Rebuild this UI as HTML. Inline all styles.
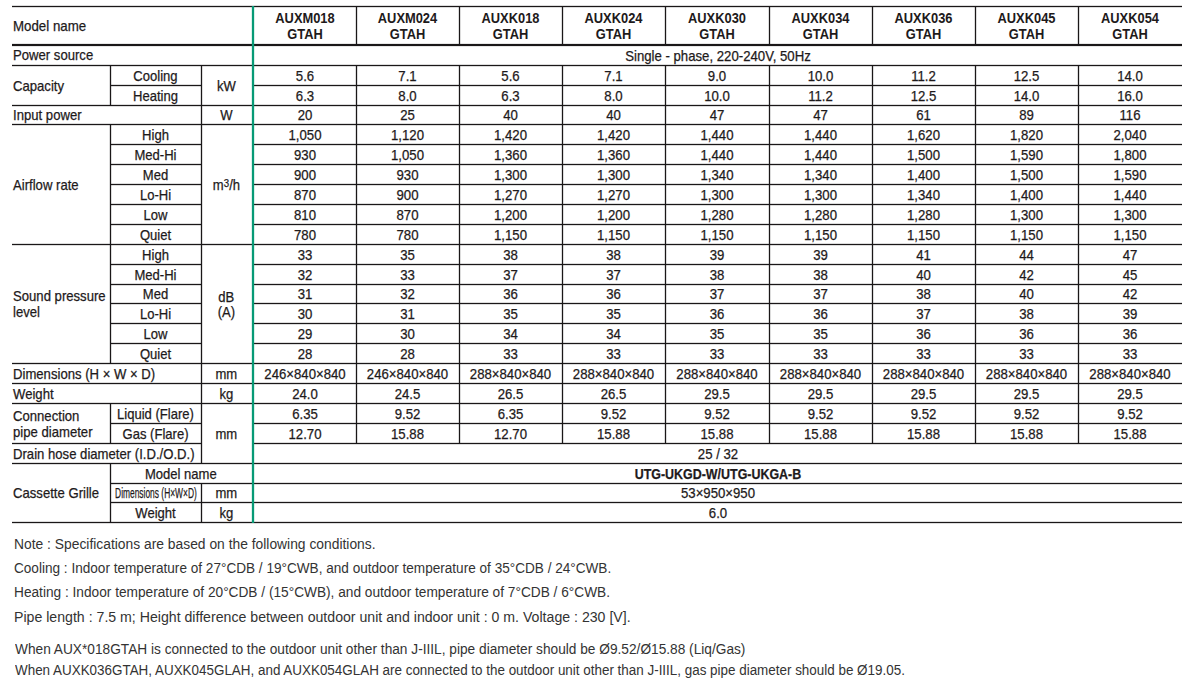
<!DOCTYPE html>
<html><head><meta charset="utf-8"><style>
html,body{margin:0;padding:0;background:#fff;}
body{width:1199px;height:684px;position:relative;overflow:hidden;font-family:"Liberation Sans",Arial,sans-serif;color:#1e1a1b;}
svg{position:absolute;left:0;top:0;}
.c{position:absolute;display:flex;align-items:center;justify-content:center;font-size:14.2px;line-height:15px;text-align:center;white-space:nowrap;transform:scaleX(0.929);-webkit-text-stroke:0.25px #1e1a1b;}
.c.t{transform:scaleX(0.92);}
.lab{position:absolute;display:flex;align-items:center;font-size:14.2px;line-height:15.6px;white-space:nowrap;transform:scaleX(0.925);transform-origin:0 0;-webkit-text-stroke:0.25px #1e1a1b;}
.mn{transform:scaleX(0.937);}
.h{position:absolute;font-weight:bold;font-size:14px;line-height:16.2px;text-align:center;white-space:nowrap;transform:scaleX(0.92);}
.ub{display:inline-block;transform:scaleX(0.944);}
.n{position:absolute;font-size:14px;line-height:14px;color:#333;white-space:nowrap;transform-origin:0 0;}
.tiny{display:inline-block;transform:scaleX(0.638);}
sup{font-size:10.5px;line-height:0;vertical-align:0;position:relative;top:-3.6px;margin-left:0.3px;}
</style></head><body>
<svg width="1199" height="684" viewBox="0 0 1199 684" fill="#1a1718"><rect x="12" y="5.85" width="1170" height="1.30"/><rect x="12" y="43.90" width="1170" height="2.2"/><rect x="12" y="64.85" width="1170" height="1.30"/><rect x="110" y="84.85" width="91" height="1.30"/><rect x="254" y="84.85" width="928" height="1.30"/><rect x="12" y="104.85" width="1170" height="1.30"/><rect x="12" y="123.85" width="1170" height="1.30"/><rect x="110" y="143.85" width="91" height="1.30"/><rect x="254" y="143.85" width="928" height="1.30"/><rect x="110" y="163.85" width="91" height="1.30"/><rect x="254" y="163.85" width="928" height="1.30"/><rect x="110" y="183.85" width="91" height="1.30"/><rect x="254" y="183.85" width="928" height="1.30"/><rect x="110" y="203.85" width="91" height="1.30"/><rect x="254" y="203.85" width="928" height="1.30"/><rect x="110" y="223.85" width="91" height="1.30"/><rect x="254" y="223.85" width="928" height="1.30"/><rect x="12" y="243.85" width="1170" height="1.30"/><rect x="110" y="263.85" width="91" height="1.30"/><rect x="254" y="263.85" width="928" height="1.30"/><rect x="110" y="283.85" width="91" height="1.30"/><rect x="254" y="283.85" width="928" height="1.30"/><rect x="110" y="302.85" width="91" height="1.30"/><rect x="254" y="302.85" width="928" height="1.30"/><rect x="110" y="322.85" width="91" height="1.30"/><rect x="254" y="322.85" width="928" height="1.30"/><rect x="110" y="342.85" width="91" height="1.30"/><rect x="254" y="342.85" width="928" height="1.30"/><rect x="12" y="362.85" width="1170" height="1.30"/><rect x="12" y="382.85" width="1170" height="1.30"/><rect x="12" y="402.85" width="1170" height="1.30"/><rect x="110" y="422.85" width="91" height="1.30"/><rect x="254" y="422.85" width="928" height="1.30"/><rect x="12" y="442.85" width="189" height="1.30"/><rect x="254" y="442.85" width="928" height="1.30"/><rect x="12" y="462.85" width="1170" height="1.30"/><rect x="110" y="482.85" width="1072" height="1.30"/><rect x="110" y="501.85" width="1072" height="1.30"/><rect x="12" y="521.85" width="1170" height="1.30"/><rect x="109.85" y="65" width="1.30" height="41"/><rect x="109.85" y="124" width="1.30" height="121"/><rect x="109.85" y="244" width="1.30" height="120"/><rect x="109.85" y="403" width="1.30" height="41"/><rect x="109.85" y="463" width="1.30" height="60"/><rect x="200.85" y="65" width="1.30" height="399"/><rect x="200.85" y="483" width="1.30" height="40"/><rect x="355.85" y="6" width="1.30" height="38"/><rect x="355.85" y="65" width="1.30" height="379"/><rect x="458.85" y="6" width="1.30" height="38"/><rect x="458.85" y="65" width="1.30" height="379"/><rect x="561.85" y="6" width="1.30" height="38"/><rect x="561.85" y="65" width="1.30" height="379"/><rect x="664.85" y="6" width="1.30" height="38"/><rect x="664.85" y="65" width="1.30" height="379"/><rect x="768.85" y="6" width="1.30" height="38"/><rect x="768.85" y="65" width="1.30" height="379"/><rect x="871.85" y="6" width="1.30" height="38"/><rect x="871.85" y="65" width="1.30" height="379"/><rect x="974.85" y="6" width="1.30" height="38"/><rect x="974.85" y="65" width="1.30" height="379"/><rect x="1077.85" y="6" width="1.30" height="38"/><rect x="1077.85" y="65" width="1.30" height="379"/><rect x="251.85" y="6" width="2.3" height="517" fill="#079a76"/></svg>
<div class="h" style="left:254.00px;top:9.6px;width:102.00px">AUXM018<br>GTAH</div>
<div class="h" style="left:356.00px;top:9.6px;width:103.00px">AUXM024<br>GTAH</div>
<div class="h" style="left:459.00px;top:9.6px;width:103.00px">AUXK018<br>GTAH</div>
<div class="h" style="left:562.00px;top:9.6px;width:103.00px">AUXK024<br>GTAH</div>
<div class="h" style="left:665.00px;top:9.6px;width:104.00px">AUXK030<br>GTAH</div>
<div class="h" style="left:769.00px;top:9.6px;width:103.00px">AUXK034<br>GTAH</div>
<div class="h" style="left:872.00px;top:9.6px;width:103.00px">AUXK036<br>GTAH</div>
<div class="h" style="left:975.00px;top:9.6px;width:103.00px">AUXK045<br>GTAH</div>
<div class="h" style="left:1078.00px;top:9.6px;width:104.00px">AUXK054<br>GTAH</div>
<div class="lab mn" style="left:12.8px;top:8.2px;height:37px">Model name</div>
<div class="lab" style="left:13.3px;top:46.40px;height:19.00px">Power source</div>
<div class="lab" style="left:13.3px;top:67.00px;height:39.00px">Capacity</div>
<div class="lab" style="left:13.3px;top:107.00px;height:18.00px">Input power</div>
<div class="lab" style="left:13.3px;top:126.00px;height:119.00px">Airflow rate</div>
<div class="lab" style="left:13.3px;top:246.00px;height:118.00px">Sound pressure<br>level</div>
<div class="lab" style="left:13.3px;top:365.00px;height:19.00px">Dimensions (H × W × D)</div>
<div class="lab" style="left:13.3px;top:385.00px;height:19.00px">Weight</div>
<div class="lab" style="left:13.3px;top:405.00px;height:39.00px">Connection<br>pipe diameter</div>
<div class="lab" style="left:13.3px;top:445.00px;height:19.00px">Drain hose diameter (I.D./O.D.)</div>
<div class="lab" style="left:13.3px;top:465.00px;height:58.00px">Cassette Grille</div>
<div class="c t" style="left:110.00px;top:66.55px;width:91.00px;height:19.00px">Cooling</div>
<div class="c t" style="left:110.00px;top:86.55px;width:91.00px;height:19.00px">Heating</div>
<div class="c t" style="left:110.00px;top:125.55px;width:91.00px;height:19.00px">High</div>
<div class="c t" style="left:110.00px;top:145.55px;width:91.00px;height:19.00px">Med-Hi</div>
<div class="c t" style="left:110.00px;top:165.55px;width:91.00px;height:19.00px">Med</div>
<div class="c t" style="left:110.00px;top:185.55px;width:91.00px;height:19.00px">Lo-Hi</div>
<div class="c t" style="left:110.00px;top:205.55px;width:91.00px;height:19.00px">Low</div>
<div class="c t" style="left:110.00px;top:225.55px;width:91.00px;height:19.00px">Quiet</div>
<div class="c t" style="left:110.00px;top:245.55px;width:91.00px;height:19.00px">High</div>
<div class="c t" style="left:110.00px;top:265.55px;width:91.00px;height:19.00px">Med-Hi</div>
<div class="c t" style="left:110.00px;top:285.55px;width:91.00px;height:18.00px">Med</div>
<div class="c t" style="left:110.00px;top:304.55px;width:91.00px;height:19.00px">Lo-Hi</div>
<div class="c t" style="left:110.00px;top:324.55px;width:91.00px;height:19.00px">Low</div>
<div class="c t" style="left:110.00px;top:344.55px;width:91.00px;height:19.00px">Quiet</div>
<div class="c t" style="left:110.00px;top:404.55px;width:91.00px;height:19.00px">Liquid (Flare)</div>
<div class="c t" style="left:110.00px;top:424.55px;width:91.00px;height:19.00px">Gas (Flare)</div>
<div class="c t" style="left:110.00px;top:503.55px;width:91.00px;height:19.00px">Weight</div>
<div class="c t" style="left:110.00px;top:464.55px;width:141.70px;height:19.00px">Model name</div>
<div class="c" style="left:110.00px;top:484.55px;width:91.00px;height:18.00px"><span class="tiny">Dimensions (H×W×D)</span></div>
<div class="c t" style="left:201.00px;top:66.55px;width:50.70px;height:39.00px">kW</div>
<div class="c t" style="left:201.00px;top:106.55px;width:50.70px;height:18.00px">W</div>
<div class="c t" style="left:201.00px;top:125.55px;width:50.70px;height:119.00px"><span style="position:relative;top:0.8px">m<sup>3</sup>/h</span></div>
<div class="c t" style="left:201.00px;top:245.55px;width:50.70px;height:118.00px">dB<br>(A)</div>
<div class="c t" style="left:201.00px;top:364.55px;width:50.70px;height:19.00px">mm</div>
<div class="c t" style="left:201.00px;top:384.55px;width:50.70px;height:19.00px">kg</div>
<div class="c t" style="left:201.00px;top:404.55px;width:50.70px;height:59.00px">mm</div>
<div class="c t" style="left:201.00px;top:484.55px;width:50.70px;height:18.00px">mm</div>
<div class="c t" style="left:201.00px;top:503.55px;width:50.70px;height:19.00px">kg</div>
<div class="c" style="left:254.00px;top:66.55px;width:102.00px;height:19.00px">5.6</div>
<div class="c" style="left:356.00px;top:66.55px;width:103.00px;height:19.00px">7.1</div>
<div class="c" style="left:459.00px;top:66.55px;width:103.00px;height:19.00px">5.6</div>
<div class="c" style="left:562.00px;top:66.55px;width:103.00px;height:19.00px">7.1</div>
<div class="c" style="left:665.00px;top:66.55px;width:104.00px;height:19.00px">9.0</div>
<div class="c" style="left:769.00px;top:66.55px;width:103.00px;height:19.00px">10.0</div>
<div class="c" style="left:872.00px;top:66.55px;width:103.00px;height:19.00px">11.2</div>
<div class="c" style="left:975.00px;top:66.55px;width:103.00px;height:19.00px">12.5</div>
<div class="c" style="left:1078.00px;top:66.55px;width:104.00px;height:19.00px">14.0</div>
<div class="c" style="left:254.00px;top:86.55px;width:102.00px;height:19.00px">6.3</div>
<div class="c" style="left:356.00px;top:86.55px;width:103.00px;height:19.00px">8.0</div>
<div class="c" style="left:459.00px;top:86.55px;width:103.00px;height:19.00px">6.3</div>
<div class="c" style="left:562.00px;top:86.55px;width:103.00px;height:19.00px">8.0</div>
<div class="c" style="left:665.00px;top:86.55px;width:104.00px;height:19.00px">10.0</div>
<div class="c" style="left:769.00px;top:86.55px;width:103.00px;height:19.00px">11.2</div>
<div class="c" style="left:872.00px;top:86.55px;width:103.00px;height:19.00px">12.5</div>
<div class="c" style="left:975.00px;top:86.55px;width:103.00px;height:19.00px">14.0</div>
<div class="c" style="left:1078.00px;top:86.55px;width:104.00px;height:19.00px">16.0</div>
<div class="c" style="left:254.00px;top:106.55px;width:102.00px;height:18.00px">20</div>
<div class="c" style="left:356.00px;top:106.55px;width:103.00px;height:18.00px">25</div>
<div class="c" style="left:459.00px;top:106.55px;width:103.00px;height:18.00px">40</div>
<div class="c" style="left:562.00px;top:106.55px;width:103.00px;height:18.00px">40</div>
<div class="c" style="left:665.00px;top:106.55px;width:104.00px;height:18.00px">47</div>
<div class="c" style="left:769.00px;top:106.55px;width:103.00px;height:18.00px">47</div>
<div class="c" style="left:872.00px;top:106.55px;width:103.00px;height:18.00px">61</div>
<div class="c" style="left:975.00px;top:106.55px;width:103.00px;height:18.00px">89</div>
<div class="c" style="left:1078.00px;top:106.55px;width:104.00px;height:18.00px">116</div>
<div class="c" style="left:254.00px;top:125.55px;width:102.00px;height:19.00px">1,050</div>
<div class="c" style="left:356.00px;top:125.55px;width:103.00px;height:19.00px">1,120</div>
<div class="c" style="left:459.00px;top:125.55px;width:103.00px;height:19.00px">1,420</div>
<div class="c" style="left:562.00px;top:125.55px;width:103.00px;height:19.00px">1,420</div>
<div class="c" style="left:665.00px;top:125.55px;width:104.00px;height:19.00px">1,440</div>
<div class="c" style="left:769.00px;top:125.55px;width:103.00px;height:19.00px">1,440</div>
<div class="c" style="left:872.00px;top:125.55px;width:103.00px;height:19.00px">1,620</div>
<div class="c" style="left:975.00px;top:125.55px;width:103.00px;height:19.00px">1,820</div>
<div class="c" style="left:1078.00px;top:125.55px;width:104.00px;height:19.00px">2,040</div>
<div class="c" style="left:254.00px;top:145.55px;width:102.00px;height:19.00px">930</div>
<div class="c" style="left:356.00px;top:145.55px;width:103.00px;height:19.00px">1,050</div>
<div class="c" style="left:459.00px;top:145.55px;width:103.00px;height:19.00px">1,360</div>
<div class="c" style="left:562.00px;top:145.55px;width:103.00px;height:19.00px">1,360</div>
<div class="c" style="left:665.00px;top:145.55px;width:104.00px;height:19.00px">1,440</div>
<div class="c" style="left:769.00px;top:145.55px;width:103.00px;height:19.00px">1,440</div>
<div class="c" style="left:872.00px;top:145.55px;width:103.00px;height:19.00px">1,500</div>
<div class="c" style="left:975.00px;top:145.55px;width:103.00px;height:19.00px">1,590</div>
<div class="c" style="left:1078.00px;top:145.55px;width:104.00px;height:19.00px">1,800</div>
<div class="c" style="left:254.00px;top:165.55px;width:102.00px;height:19.00px">900</div>
<div class="c" style="left:356.00px;top:165.55px;width:103.00px;height:19.00px">930</div>
<div class="c" style="left:459.00px;top:165.55px;width:103.00px;height:19.00px">1,300</div>
<div class="c" style="left:562.00px;top:165.55px;width:103.00px;height:19.00px">1,300</div>
<div class="c" style="left:665.00px;top:165.55px;width:104.00px;height:19.00px">1,340</div>
<div class="c" style="left:769.00px;top:165.55px;width:103.00px;height:19.00px">1,340</div>
<div class="c" style="left:872.00px;top:165.55px;width:103.00px;height:19.00px">1,400</div>
<div class="c" style="left:975.00px;top:165.55px;width:103.00px;height:19.00px">1,500</div>
<div class="c" style="left:1078.00px;top:165.55px;width:104.00px;height:19.00px">1,590</div>
<div class="c" style="left:254.00px;top:185.55px;width:102.00px;height:19.00px">870</div>
<div class="c" style="left:356.00px;top:185.55px;width:103.00px;height:19.00px">900</div>
<div class="c" style="left:459.00px;top:185.55px;width:103.00px;height:19.00px">1,270</div>
<div class="c" style="left:562.00px;top:185.55px;width:103.00px;height:19.00px">1,270</div>
<div class="c" style="left:665.00px;top:185.55px;width:104.00px;height:19.00px">1,300</div>
<div class="c" style="left:769.00px;top:185.55px;width:103.00px;height:19.00px">1,300</div>
<div class="c" style="left:872.00px;top:185.55px;width:103.00px;height:19.00px">1,340</div>
<div class="c" style="left:975.00px;top:185.55px;width:103.00px;height:19.00px">1,400</div>
<div class="c" style="left:1078.00px;top:185.55px;width:104.00px;height:19.00px">1,440</div>
<div class="c" style="left:254.00px;top:205.55px;width:102.00px;height:19.00px">810</div>
<div class="c" style="left:356.00px;top:205.55px;width:103.00px;height:19.00px">870</div>
<div class="c" style="left:459.00px;top:205.55px;width:103.00px;height:19.00px">1,200</div>
<div class="c" style="left:562.00px;top:205.55px;width:103.00px;height:19.00px">1,200</div>
<div class="c" style="left:665.00px;top:205.55px;width:104.00px;height:19.00px">1,280</div>
<div class="c" style="left:769.00px;top:205.55px;width:103.00px;height:19.00px">1,280</div>
<div class="c" style="left:872.00px;top:205.55px;width:103.00px;height:19.00px">1,280</div>
<div class="c" style="left:975.00px;top:205.55px;width:103.00px;height:19.00px">1,300</div>
<div class="c" style="left:1078.00px;top:205.55px;width:104.00px;height:19.00px">1,300</div>
<div class="c" style="left:254.00px;top:225.55px;width:102.00px;height:19.00px">780</div>
<div class="c" style="left:356.00px;top:225.55px;width:103.00px;height:19.00px">780</div>
<div class="c" style="left:459.00px;top:225.55px;width:103.00px;height:19.00px">1,150</div>
<div class="c" style="left:562.00px;top:225.55px;width:103.00px;height:19.00px">1,150</div>
<div class="c" style="left:665.00px;top:225.55px;width:104.00px;height:19.00px">1,150</div>
<div class="c" style="left:769.00px;top:225.55px;width:103.00px;height:19.00px">1,150</div>
<div class="c" style="left:872.00px;top:225.55px;width:103.00px;height:19.00px">1,150</div>
<div class="c" style="left:975.00px;top:225.55px;width:103.00px;height:19.00px">1,150</div>
<div class="c" style="left:1078.00px;top:225.55px;width:104.00px;height:19.00px">1,150</div>
<div class="c" style="left:254.00px;top:245.55px;width:102.00px;height:19.00px">33</div>
<div class="c" style="left:356.00px;top:245.55px;width:103.00px;height:19.00px">35</div>
<div class="c" style="left:459.00px;top:245.55px;width:103.00px;height:19.00px">38</div>
<div class="c" style="left:562.00px;top:245.55px;width:103.00px;height:19.00px">38</div>
<div class="c" style="left:665.00px;top:245.55px;width:104.00px;height:19.00px">39</div>
<div class="c" style="left:769.00px;top:245.55px;width:103.00px;height:19.00px">39</div>
<div class="c" style="left:872.00px;top:245.55px;width:103.00px;height:19.00px">41</div>
<div class="c" style="left:975.00px;top:245.55px;width:103.00px;height:19.00px">44</div>
<div class="c" style="left:1078.00px;top:245.55px;width:104.00px;height:19.00px">47</div>
<div class="c" style="left:254.00px;top:265.55px;width:102.00px;height:19.00px">32</div>
<div class="c" style="left:356.00px;top:265.55px;width:103.00px;height:19.00px">33</div>
<div class="c" style="left:459.00px;top:265.55px;width:103.00px;height:19.00px">37</div>
<div class="c" style="left:562.00px;top:265.55px;width:103.00px;height:19.00px">37</div>
<div class="c" style="left:665.00px;top:265.55px;width:104.00px;height:19.00px">38</div>
<div class="c" style="left:769.00px;top:265.55px;width:103.00px;height:19.00px">38</div>
<div class="c" style="left:872.00px;top:265.55px;width:103.00px;height:19.00px">40</div>
<div class="c" style="left:975.00px;top:265.55px;width:103.00px;height:19.00px">42</div>
<div class="c" style="left:1078.00px;top:265.55px;width:104.00px;height:19.00px">45</div>
<div class="c" style="left:254.00px;top:285.55px;width:102.00px;height:18.00px">31</div>
<div class="c" style="left:356.00px;top:285.55px;width:103.00px;height:18.00px">32</div>
<div class="c" style="left:459.00px;top:285.55px;width:103.00px;height:18.00px">36</div>
<div class="c" style="left:562.00px;top:285.55px;width:103.00px;height:18.00px">36</div>
<div class="c" style="left:665.00px;top:285.55px;width:104.00px;height:18.00px">37</div>
<div class="c" style="left:769.00px;top:285.55px;width:103.00px;height:18.00px">37</div>
<div class="c" style="left:872.00px;top:285.55px;width:103.00px;height:18.00px">38</div>
<div class="c" style="left:975.00px;top:285.55px;width:103.00px;height:18.00px">40</div>
<div class="c" style="left:1078.00px;top:285.55px;width:104.00px;height:18.00px">42</div>
<div class="c" style="left:254.00px;top:304.55px;width:102.00px;height:19.00px">30</div>
<div class="c" style="left:356.00px;top:304.55px;width:103.00px;height:19.00px">31</div>
<div class="c" style="left:459.00px;top:304.55px;width:103.00px;height:19.00px">35</div>
<div class="c" style="left:562.00px;top:304.55px;width:103.00px;height:19.00px">35</div>
<div class="c" style="left:665.00px;top:304.55px;width:104.00px;height:19.00px">36</div>
<div class="c" style="left:769.00px;top:304.55px;width:103.00px;height:19.00px">36</div>
<div class="c" style="left:872.00px;top:304.55px;width:103.00px;height:19.00px">37</div>
<div class="c" style="left:975.00px;top:304.55px;width:103.00px;height:19.00px">38</div>
<div class="c" style="left:1078.00px;top:304.55px;width:104.00px;height:19.00px">39</div>
<div class="c" style="left:254.00px;top:324.55px;width:102.00px;height:19.00px">29</div>
<div class="c" style="left:356.00px;top:324.55px;width:103.00px;height:19.00px">30</div>
<div class="c" style="left:459.00px;top:324.55px;width:103.00px;height:19.00px">34</div>
<div class="c" style="left:562.00px;top:324.55px;width:103.00px;height:19.00px">34</div>
<div class="c" style="left:665.00px;top:324.55px;width:104.00px;height:19.00px">35</div>
<div class="c" style="left:769.00px;top:324.55px;width:103.00px;height:19.00px">35</div>
<div class="c" style="left:872.00px;top:324.55px;width:103.00px;height:19.00px">36</div>
<div class="c" style="left:975.00px;top:324.55px;width:103.00px;height:19.00px">36</div>
<div class="c" style="left:1078.00px;top:324.55px;width:104.00px;height:19.00px">36</div>
<div class="c" style="left:254.00px;top:344.55px;width:102.00px;height:19.00px">28</div>
<div class="c" style="left:356.00px;top:344.55px;width:103.00px;height:19.00px">28</div>
<div class="c" style="left:459.00px;top:344.55px;width:103.00px;height:19.00px">33</div>
<div class="c" style="left:562.00px;top:344.55px;width:103.00px;height:19.00px">33</div>
<div class="c" style="left:665.00px;top:344.55px;width:104.00px;height:19.00px">33</div>
<div class="c" style="left:769.00px;top:344.55px;width:103.00px;height:19.00px">33</div>
<div class="c" style="left:872.00px;top:344.55px;width:103.00px;height:19.00px">33</div>
<div class="c" style="left:975.00px;top:344.55px;width:103.00px;height:19.00px">33</div>
<div class="c" style="left:1078.00px;top:344.55px;width:104.00px;height:19.00px">33</div>
<div class="c" style="left:254.00px;top:364.55px;width:102.00px;height:19.00px">246×840×840</div>
<div class="c" style="left:356.00px;top:364.55px;width:103.00px;height:19.00px">246×840×840</div>
<div class="c" style="left:459.00px;top:364.55px;width:103.00px;height:19.00px">288×840×840</div>
<div class="c" style="left:562.00px;top:364.55px;width:103.00px;height:19.00px">288×840×840</div>
<div class="c" style="left:665.00px;top:364.55px;width:104.00px;height:19.00px">288×840×840</div>
<div class="c" style="left:769.00px;top:364.55px;width:103.00px;height:19.00px">288×840×840</div>
<div class="c" style="left:872.00px;top:364.55px;width:103.00px;height:19.00px">288×840×840</div>
<div class="c" style="left:975.00px;top:364.55px;width:103.00px;height:19.00px">288×840×840</div>
<div class="c" style="left:1078.00px;top:364.55px;width:104.00px;height:19.00px">288×840×840</div>
<div class="c" style="left:254.00px;top:384.55px;width:102.00px;height:19.00px">24.0</div>
<div class="c" style="left:356.00px;top:384.55px;width:103.00px;height:19.00px">24.5</div>
<div class="c" style="left:459.00px;top:384.55px;width:103.00px;height:19.00px">26.5</div>
<div class="c" style="left:562.00px;top:384.55px;width:103.00px;height:19.00px">26.5</div>
<div class="c" style="left:665.00px;top:384.55px;width:104.00px;height:19.00px">29.5</div>
<div class="c" style="left:769.00px;top:384.55px;width:103.00px;height:19.00px">29.5</div>
<div class="c" style="left:872.00px;top:384.55px;width:103.00px;height:19.00px">29.5</div>
<div class="c" style="left:975.00px;top:384.55px;width:103.00px;height:19.00px">29.5</div>
<div class="c" style="left:1078.00px;top:384.55px;width:104.00px;height:19.00px">29.5</div>
<div class="c" style="left:254.00px;top:404.55px;width:102.00px;height:19.00px">6.35</div>
<div class="c" style="left:356.00px;top:404.55px;width:103.00px;height:19.00px">9.52</div>
<div class="c" style="left:459.00px;top:404.55px;width:103.00px;height:19.00px">6.35</div>
<div class="c" style="left:562.00px;top:404.55px;width:103.00px;height:19.00px">9.52</div>
<div class="c" style="left:665.00px;top:404.55px;width:104.00px;height:19.00px">9.52</div>
<div class="c" style="left:769.00px;top:404.55px;width:103.00px;height:19.00px">9.52</div>
<div class="c" style="left:872.00px;top:404.55px;width:103.00px;height:19.00px">9.52</div>
<div class="c" style="left:975.00px;top:404.55px;width:103.00px;height:19.00px">9.52</div>
<div class="c" style="left:1078.00px;top:404.55px;width:104.00px;height:19.00px">9.52</div>
<div class="c" style="left:254.00px;top:424.55px;width:102.00px;height:19.00px">12.70</div>
<div class="c" style="left:356.00px;top:424.55px;width:103.00px;height:19.00px">15.88</div>
<div class="c" style="left:459.00px;top:424.55px;width:103.00px;height:19.00px">12.70</div>
<div class="c" style="left:562.00px;top:424.55px;width:103.00px;height:19.00px">15.88</div>
<div class="c" style="left:665.00px;top:424.55px;width:104.00px;height:19.00px">15.88</div>
<div class="c" style="left:769.00px;top:424.55px;width:103.00px;height:19.00px">15.88</div>
<div class="c" style="left:872.00px;top:424.55px;width:103.00px;height:19.00px">15.88</div>
<div class="c" style="left:975.00px;top:424.55px;width:103.00px;height:19.00px">15.88</div>
<div class="c" style="left:1078.00px;top:424.55px;width:104.00px;height:19.00px">15.88</div>
<div class="c" style="left:254.00px;top:47.20px;width:928.00px;height:19.00px">Single - phase, 220-240V, 50Hz</div>
<div class="c" style="left:254.00px;top:444.55px;width:928.00px;height:19.00px">25 / 32</div>
<div class="c" style="left:254.00px;top:464.55px;width:928.00px;height:19.00px"><b class="ub">UTG-UKGD-W/UTG-UKGA-B</b></div>
<div class="c" style="left:254.00px;top:484.55px;width:928.00px;height:18.00px">53×950×950</div>
<div class="c" style="left:254.00px;top:503.55px;width:928.00px;height:19.00px">6.0</div>
<div class="n" id="n0" style="top:536.53px;left:14.1px;transform:scaleX(0.9885)">Note : Specifications are based on the following conditions.</div>
<div class="n" id="n1" style="top:560.53px;left:14.0px;transform:scaleX(0.9705)">Cooling : Indoor temperature of 27°CDB / 19°CWB, and outdoor temperature of 35°CDB / 24°CWB.</div>
<div class="n" id="n2" style="top:584.63px;left:14.0px;transform:scaleX(0.9772)">Heating : Indoor temperature of 20°CDB / (15°CWB), and outdoor temperature of 7°CDB / 6°CWB.</div>
<div class="n" id="n3" style="top:609.73px;left:14.0px;transform:scaleX(1.0097)">Pipe length : 7.5 m; Height difference between outdoor unit and indoor unit : 0 m. Voltage : 230 [V].</div>
<div class="n" id="n4" style="top:641.53px;left:14.7px;transform:scaleX(0.9780)">When AUX*018GTAH is connected to the outdoor unit other than J-IIIL, pipe diameter should be Ø9.52/Ø15.88 (Liq/Gas)</div>
<div class="n" id="n5" style="top:662.93px;left:14.7px;transform:scaleX(0.9587)">When AUXK036GTAH, AUXK045GLAH, and AUXK054GLAH are connected to the outdoor unit other than J-IIIL, gas pipe diameter should be Ø19.05.</div>
</body></html>
